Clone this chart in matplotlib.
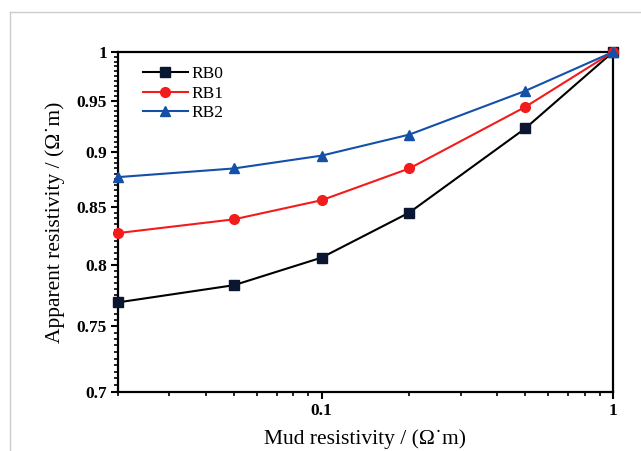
import matplotlib
matplotlib.use("Agg")
import matplotlib.pyplot as plt
from matplotlib.ticker import FixedLocator, NullFormatter, FixedFormatter
from matplotlib.lines import Line2D
import numpy as np

mud_res = [0.02, 0.05, 0.1, 0.2, 0.5, 1.0]
rb0 = [0.769, 0.783, 0.806, 0.845, 0.923, 1.0]
rb1 = [0.827, 0.839, 0.856, 0.885, 0.944, 1.0]
rb2 = [0.877, 0.885, 0.897, 0.917, 0.960, 1.0]

y_ticks = [0.7, 0.75, 0.8, 0.85, 0.9, 0.95, 1.0]
y_ticklabels = ["0.7", "0.75", "0.8", "0.85", "0.9", "0.95", "1"]
x_ticks = [0.1, 1.0]
x_ticklabels = ["0.1", "1"]

plt.rcParams["font.family"] = ["Liberation Serif", "DejaVu Serif"]

fig = plt.figure(figsize=(6.41, 4.51), dpi=100)
ax = fig.add_axes([118 / 641, 59 / 451, 495 / 641, 340 / 451])

# light grey frame from the screenshot crop
fig.add_artist(Line2D([10 / 641, 1], [1 - 12 / 451, 1 - 12 / 451], color="#cccccc", lw=1))
fig.add_artist(Line2D([10 / 641, 10 / 641], [0, 1 - 12 / 451], color="#cccccc", lw=1))

ax.plot(mud_res, rb0, "-s", color="black", mfc="#0b1630", mec="#0b1630", ms=6.5, lw=1.5,
        label="RB0", clip_on=False, zorder=3)
ax.plot(mud_res, rb1, "-o", color="#f21c1c", ms=7, lw=1.5, label="RB1", clip_on=False, zorder=3)
ax.plot(mud_res, rb2, "-^", color="#1450a8", ms=7.5, lw=1.5, label="RB2", clip_on=False, zorder=3)

ax.set_xscale("log")
ax.set_yscale("log")
ax.set_xlim(0.02, 1)
ax.set_ylim(0.7, 1)

ax.xaxis.set_major_locator(FixedLocator(x_ticks))
ax.xaxis.set_major_formatter(FixedFormatter(x_ticklabels))
ax.xaxis.set_minor_locator(FixedLocator([0.02, 0.03, 0.04, 0.05, 0.06, 0.07, 0.08, 0.09,
                                         0.2, 0.3, 0.4, 0.5, 0.6, 0.7, 0.8, 0.9]))
ax.xaxis.set_minor_formatter(NullFormatter())

ax.yaxis.set_major_locator(FixedLocator(y_ticks))
ax.yaxis.set_major_formatter(FixedFormatter(y_ticklabels))
ax.yaxis.set_minor_locator(FixedLocator(np.round(np.arange(0.7, 1.0001, 0.005), 3)))
ax.yaxis.set_minor_formatter(NullFormatter())

ax.tick_params(which="major", direction="out", length=5, width=1.5, labelsize=12.5, pad=3)
ax.tick_params(which="minor", direction="out", length=3, width=1.2)
for lab in ax.get_xticklabels() + ax.get_yticklabels():
    lab.set_fontweight("bold")

for sp in ax.spines.values():
    sp.set_linewidth(1.6)

ax.set_xlabel("Mud resistivity / (\u03a9\u02d9m)", fontsize=15.5, labelpad=7)
ax.set_ylabel("Apparent resistivity / (\u03a9\u02d9m)", fontsize=15.5, labelpad=8)

ax.legend(loc="upper left", frameon=False, fontsize=12.5, handlelength=2.6,
          handletextpad=0.2, labelspacing=0.2, borderaxespad=0.3, bbox_to_anchor=(0.025, 0.995))

fig.savefig("out.png", dpi=100)
